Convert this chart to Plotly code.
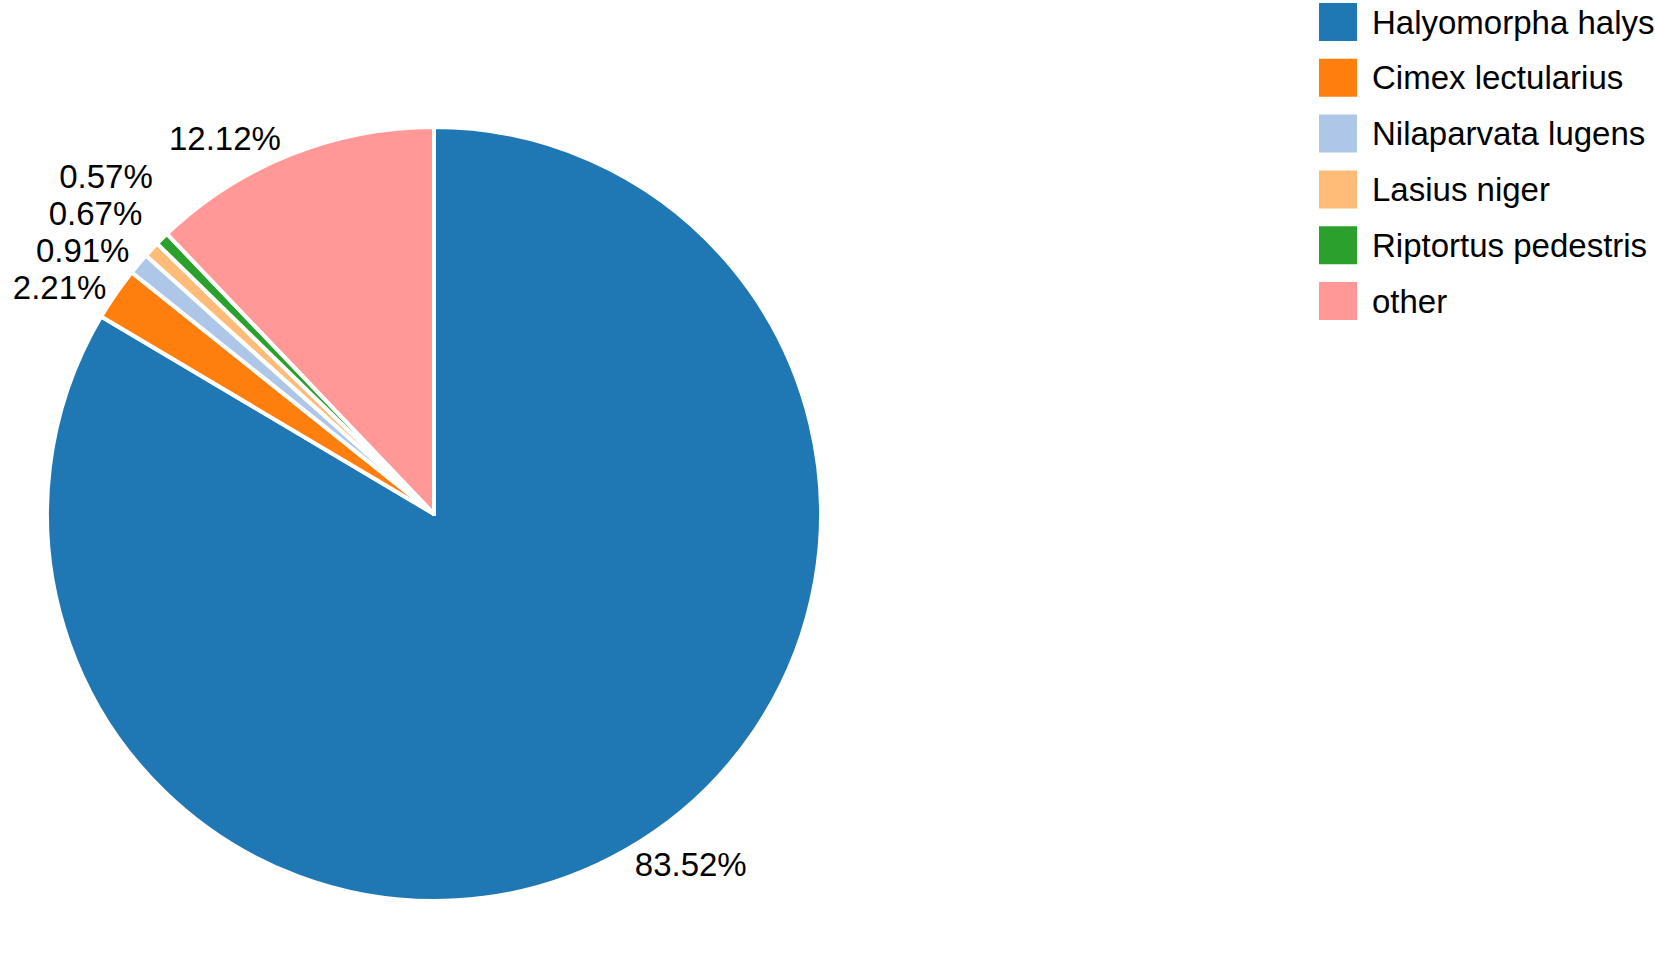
import plotly.graph_objects as go

labels = ["Halyomorpha halys", "Cimex lectularius", "Nilaparvata lugens",
          "Lasius niger", "Riptortus pedestris", "other"]
values = [83.52, 2.21, 0.91, 0.67, 0.57, 12.12]
colors = ["#1f77b4", "#ff7f0e", "#aec7e8", "#ffbb78", "#2ca02c", "#ff9896"]

W, H = 1655, 966
FONT = "Liberation Sans, Arial, Helvetica, sans-serif"

cx, cy, r = 434, 514, 387

fig = go.Figure(go.Pie(
    labels=labels,
    values=values,
    sort=False,
    direction="clockwise",
    rotation=0,
    marker=dict(colors=colors, line=dict(color="white", width=4)),
    texttemplate="%{value:.2f}%",
    textposition="outside",
    textfont=dict(size=33, color="black", family=FONT),
    domain=dict(x=[(cx - r) / W, (cx + r) / W],
                y=[(H - cy - r) / H, (H - cy + r) / H]),
    showlegend=False,
    hoverinfo="label+value",
))

# legend drawn from labels / colors
shapes, annotations = [], []
sw_x0, sw_x1, sw = 1319, 1357, 38
row0, gap = 22, 55.8
for i, (lab, col) in enumerate(zip(labels, colors)):
    yc = row0 + i * gap
    shapes.append(dict(type="rect", xref="paper", yref="paper",
                       x0=sw_x0 / W, x1=sw_x1 / W,
                       y0=1 - (yc + sw / 2) / H, y1=1 - (yc - sw / 2) / H,
                       fillcolor=col, line=dict(width=0)))
    annotations.append(dict(text=lab, xref="paper", yref="paper",
                            x=1370 / W, y=1 - yc / H, xanchor="left", yanchor="middle",
                            showarrow=False,
                            font=dict(size=33, color="black", family=FONT)))

fig.update_layout(
    width=W, height=H,
    margin=dict(l=0, r=0, t=0, b=0),
    paper_bgcolor="white", plot_bgcolor="white",
    font=dict(family=FONT, color="black"),
    shapes=shapes, annotations=annotations,
)

post = ("var s=document.createElement('style');"
        "s.textContent='body{margin:0;overflow:hidden}path.textline{display:none}';"
        "document.head.appendChild(s);")
fig.write_html("out.html", post_script=post, config={"displayModeBar": False})
